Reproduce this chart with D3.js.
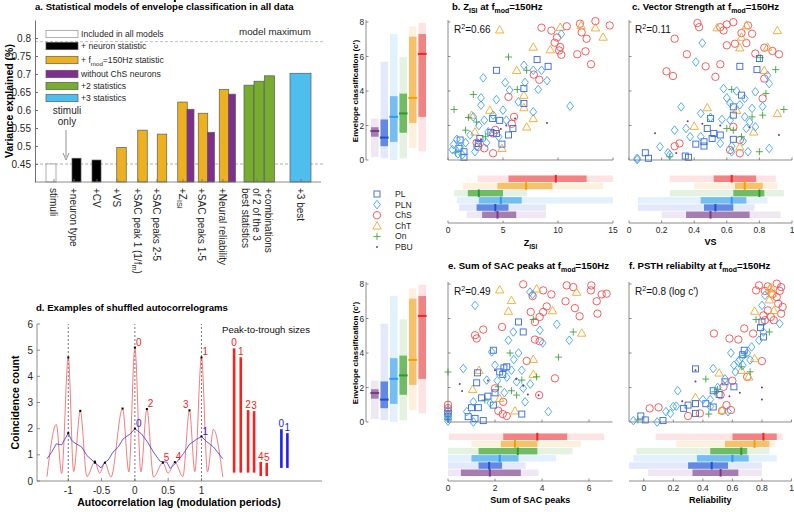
<!DOCTYPE html>
<html><head><meta charset="utf-8">
<script src="https://cdn.jsdelivr.net/npm/d3@7"></script>
<style>body{margin:0;background:#fff}svg{font-family:"Liberation Sans",Arial,Helvetica,sans-serif}</style>
</head><body><svg id="c" width="794" height="512"></svg>
<script>
// ================= DATA =================
// Panel a
const aCategories = ["stimuli","+neuron type","+CV","+VS","+SAC peak 1 (1/f_{m})","+SAC peaks 2-5","+Z_{ISI}","+SAC peaks 1-5","+Neural reliability","+combinations|of 2 of the 3|best statistics","+3 best"];
const aTickPos = [1.9,3.9,6.2,8.2,10.3,12.2,14.8,16.7,18.8,22.2,26.6];
const aBarX = [1.6,4.15,6.15,8.65,10.75,12.7,14.75,15.55,16.8,17.6,18.9,19.7,21.4,22.4,23.45,26.55];
const aBarValue = [0.45,0.466,0.461,0.496,0.544,0.533,0.622,0.602,0.591,0.538,0.657,0.644,0.669,0.68,0.695,0.702];
const aBarKind = ["all","neuron","neuron","fmod","fmod","fmod","fmod","noChS","fmod","noChS","fmod","noChS","two","two","two","three"];
const aLegendKinds = ["all","neuron","fmod","noChS","two","three"];
const aLegendText = ["Included in all models","+ neuron statistic","+ f_{mod}=150Hz statistic","without ChS neurons","+2 statistics","+3 statistics"];
const aYTicks = [0.45,0.5,0.55,0.6,0.65,0.7,0.75,0.8];
const aBaseline = 0.45, aModelMax = 0.79;

// Panel d
const dRedLag   = [-1.32,-1.18,-1.10,-1.0,-0.92,-0.82,-0.72,-0.6,-0.53,-0.45,-0.36,-0.185,-0.09,0,0.09,0.18,0.28,0.42,0.5,0.6,0.72,0.82,0.9,1.0,1.09,1.18,1.32];
const dRedCount = [0.17,2.16,0.29,4.72,0.36,2.68,0.17,0.74,0.3,0.7,0.15,2.77,0.35,5.1,0.35,2.75,0.15,0.7,0.3,0.72,0.17,2.7,0.36,4.72,0.35,1.97,0.15];
const dBlueLag   = [-1.32,-1.25,-1.18,-1.1,-1.0,-0.95,-0.9,-0.8,-0.72,-0.6,-0.51,-0.45,-0.4,-0.33,-0.25,-0.18,-0.07,0,0.1,0.2,0.28,0.38,0.48,0.53,0.62,0.73,0.82,0.93,1.0,1.08,1.18,1.32];
const dBlueCount = [0.85,1.1,1.42,1.38,1.83,1.55,1.45,1.3,0.97,0.7,0.5,0.72,0.8,1.1,1.3,1.6,1.8,2.0,1.8,1.45,1.1,0.75,0.72,0.48,0.7,1.05,1.4,1.6,1.7,1.5,1.3,0.85];
const dRedPeaks  = [-1,-0.82,-0.6,-0.45,-0.185,0,0.18,0.42,0.6,0.82,1.0];
const dBluePeaks = [-1,-0.6,0,0.6,1.0];
const dRedPeakLabels = [["0",0,5.1],["1",1.0,4.72],["2",0.18,2.75],["3",0.82,2.7],["4",0.6,0.72],["5",0.42,0.7]];
const dBluePeakLabels = [["0",0,2.0],["1",1.0,1.7]];
const dPttRedX = [1.49,1.59,1.70,1.79,1.89,1.98];
const dPttRedTop = [5.07,4.73,2.71,2.67,0.73,0.69];
const dPttRedBase = [0.32,0.32,0.32,0.32,0.19,0.19];
const dPttBlueX = [2.2,2.29];
const dPttBlueTop = [1.98,1.83];
const dPttBlueBase = [0.5,0.5];
const dXTicks = [-1,-0.5,0,0.5,1];
const dYTicks = [0,1,2,3,4,5,6];

// Neuron types
const legendTypes = ["PL","PLN","ChS","ChT","On","PBU"];
const boxTypes = ["PBU","PL","PLN","On","ChT","ChS"];
// [min, q1, median, q3, max] per boxTypes
const cStats    = [[0.17,1.35,1.68,1.9,2.4],[0.1,0.8,1.3,2.35,5.7],[0.0,1.05,2.5,3.7,7.3],[0.1,1.58,2.7,3.85,5.95],[0.7,2.15,3.6,7.15,7.75],[0.5,2.5,6.15,7.3,7.95]];
const zisiStats = [[1.7,3.1,4.5,6.2,8.9],[1.0,2.6,4.3,5.5,8.9],[0.8,2.8,4.8,6.7,15],[0.55,1.8,2.8,5.0,7.2],[1.35,4.5,7.1,9.5,14.1],[2.7,5.5,9.8,12.6,15]];
const vsStats   = [[0.2,0.35,0.5,0.74,0.93],[0.055,0.46,0.53,0.64,0.77],[0.055,0.44,0.63,0.72,0.85],[0.25,0.64,0.8,0.83,0.95],[0.4,0.65,0.71,0.82,0.91],[0.25,0.52,0.63,0.78,0.9]];
const sacStats  = [[0,0.55,1.78,3.1,3.85],[0,1.3,1.75,2.3,3.3],[0,1.0,2.2,3.0,4.6],[0,1.3,2.97,3.8,5.3],[1.0,2.25,2.85,3.8,5.65],[0.04,2.35,3.8,5.07,6.65]];
const relStats  = [[0.03,0.33,0.52,0.64,0.8],[-0.1,0.3,0.46,0.57,0.8],[-0.07,0.36,0.6,0.71,0.9],[-0.05,0.45,0.66,0.7,0.85],[0.22,0.55,0.75,0.85,0.89],[0.08,0.6,0.81,0.9,0.94]];

// Scatter points: [type, statistic, c']
const bPoints = [
["ChS",8.5,7.67],["ChS",9.4,7.5],["ChS",9.9,7.1],["ChS",9.7,6.8],["ChS",10.1,6.35],["ChS",10.2,6.55],["ChS",10.3,6.1],["ChS",10.8,7.75],["ChS",12.0,7.9],["ChS",12.15,7.4],["ChS",13.4,8.05],["ChS",14.7,7.8],["ChS",12.6,7.03],["ChS",11.75,6.13],["ChS",12.5,6.3],["ChS",13.0,5.55],["ChS",7.8,4.95],["ChS",8.3,4.65],["ChS",5.5,3.66],["ChS",6.0,2.5],["ChS",5.8,2.1],["ChS",4.1,1.54],["ChS",4.3,1.75],["ChS",4.1,0.39],["ChS",2.75,0.77],["ChS",3.3,0.68],["ChS",2.6,1.0],
["ChT",4.7,7.55],["ChT",7.75,6.55],["ChT",9.3,6.4],["ChT",10.2,7.7],["ChT",12.1,7.8],["ChT",13.4,7.67],["ChT",14.1,7.13],["ChT",6.25,5.2],["ChT",6.9,3.76],["ChT",6.9,3.04],["ChT",3.8,2.89],["ChT",2.15,2.6],["ChT",7.75,2.41],["ChT",7.15,1.92],["ChT",2.45,1.63],["ChT",4.9,0.68],
["On",5.5,5.97],["On",0.55,2.93],["On",2.3,3.8],["On",1.85,2.47],["On",0.7,0.42],["On",6.3,4.09],["On",7.15,5.2],["On",1.6,1.73],["On",3.4,1.35],["On",2.6,2.2],
["PL",4.4,5.2],["PL",8.1,5.82],["PL",9.1,5.43],["PL",6.9,4.14],["PL",6.9,3.28],["PL",5.9,1.83],["PL",4.9,0.92],["PL",4.06,2.41],["PL",4.4,1.54],["PL",1.1,1.16],["PL",1.0,0.68],["PL",1.45,0.48],["PL",1.45,0.16],["PL",2.75,0.96],["PL",5.5,1.45],["PL",3.9,1.6],["PL",2.9,1.25],["PL",4.7,2.3],
["PLN",6.9,5.49],["PLN",7.75,5.2],["PLN",8.5,5.2],["PLN",5.2,4.49],["PLN",3.2,4.76],["PLN",5.6,4.05],["PLN",6.4,3.37],["PLN",8.2,4.09],["PLN",7.75,2.79],["PLN",5.0,2.89],["PLN",3.0,3.18],["PLN",2.3,2.5],["PLN",3.3,2.31],["PLN",4.1,2.6],["PLN",5.3,2.31],["PLN",3.66,1.63],["PLN",4.6,1.35],["PLN",2.6,0.77],["PLN",2.45,0.48],["PLN",0.8,1.2],["PLN",1.1,0.77],["PLN",2.0,1.45],["PLN",11.1,3.12],["PLN",10.3,7.3],["PLN",0.5,0.9],["PLN",1.3,0.3],["PLN",0.9,0.35],["PLN",3.5,1.0],["PLN",2.8,2.0],["PLN",4.4,3.5],["PLN",9.0,4.6],["PLN",7.0,4.5],["PLN",1.6,1.0],["PLN",0.4,0.6],["PLN",3.0,3.6],
["PBU",6.1,2.4],["PBU",9.0,2.15],["PBU",5.3,2.0],["PBU",3.0,1.2],["PBU",4.8,1.8]];
const cPoints = [
["ChS",0.42,7.94],["ChS",0.43,7.7],["ChS",0.28,7.03],["ChS",0.355,6.13],["ChS",0.47,5.43],["ChS",0.23,5.14],["ChS",0.27,4.87],["ChS",0.53,4.82],["ChS",0.56,5.55],["ChS",0.6,6.65],["ChS",0.65,6.74],["ChS",0.64,7.99],["ChS",0.6,7.86],["ChS",0.56,7.7],["ChS",0.58,7.51],["ChS",0.69,7.36],["ChS",0.72,6.78],["ChS",0.775,6.17],["ChS",0.83,6.51],["ChS",0.88,6.32],["ChS",0.92,6.13],["ChS",0.73,7.8],["ChS",0.755,7.32],["ChS",0.83,4.72],["ChS",0.82,3.57],["ChS",0.68,1.16],["ChS",0.64,1.92],["ChS",0.68,0.39],["ChS",0.31,0.96],["ChS",0.28,0.8],["ChS",0.62,0.58],
["ChT",0.54,7.67],["ChT",0.72,7.8],["ChT",0.69,7.13],["ChT",0.68,6.51],["ChT",0.91,7.51],["ChT",0.85,6.55],["ChT",0.83,5.2],["ChT",0.48,3.04],["ChT",0.91,2.7],["ChT",0.4,1.96],["ChT",0.66,2.89],["ChT",0.765,1.63],["ChT",0.68,0.77],
["On",0.806,5.93],["On",0.9,5.24],["On",0.63,4.09],["On",0.84,3.86],["On",0.82,2.6],["On",0.95,2.93],["On",0.755,2.5],["On",0.6,1.83],["On",0.64,1.73],["On",0.69,1.35],["On",0.8,0.48],["On",0.25,0.19],
["PL",0.68,5.43],["PL",0.785,5.24],["PL",0.8,5.88],["PL",0.69,3.76],["PL",0.64,3.08],["PL",0.64,2.6],["PL",0.5,2.41],["PL",0.48,1.83],["PL",0.52,1.54],["PL",0.56,1.45],["PL",0.51,1.25],["PL",0.46,1.06],["PL",0.46,0.81],["PL",0.41,0.92],["PL",0.365,0.16],["PL",0.345,0.23],["PL",0.1,0.42],["PL",0.12,0.1],["PL",0.64,1.2],
["PLN",0.45,6.78],["PLN",0.41,5.68],["PLN",0.32,3.08],["PLN",0.58,4.14],["PLN",0.71,3.57],["PLN",0.775,3.95],["PLN",0.85,4.91],["PLN",0.86,4.43],["PLN",0.755,2.99],["PLN",0.44,2.7],["PLN",0.5,2.47],["PLN",0.35,1.83],["PLN",0.28,1.73],["PLN",0.375,1.35],["PLN",0.44,1.35],["PLN",0.19,0.77],["PLN",0.24,0.42],["PLN",0.05,0.1],["PLN",0.05,0.02],["PLN",0.57,2.35],["PLN",0.62,2.31],["PLN",0.71,2.5],["PLN",0.72,1.83],["PLN",0.775,1.92],["PLN",0.86,0.67],["PLN",0.73,0.48],["PLN",0.63,0.48],["PLN",0.56,0.96],["PLN",0.62,3.3],["PLN",0.66,4.0],["PLN",0.6,3.6],["PLN",0.68,3.2],["PLN",0.74,2.2],["PLN",0.63,0.8],["PLN",0.7,1.1],["PLN",0.25,0.3],["PLN",0.82,3.1],
["PBU",0.36,2.25],["PBU",0.16,1.55],["PBU",0.45,2.1],["PBU",0.29,0.4],["PBU",0.92,1.45],["PBU",0.74,1.9],["PBU",0.56,2.0]];
const ePoints = [
["ChS",3.2,7.98],["ChS",4.05,7.63],["ChS",4.4,7.4],["ChS",3.6,7.3],["ChS",3.52,6.38],["ChS",3.9,6.09],["ChS",3.7,5.8],["ChS",2.3,5.51],["ChS",4.05,6.38],["ChS",4.2,6.7],["ChS",1.5,5.36],["ChS",1.15,5.03],["ChS",1.22,4.84],["ChS",3.7,4.78],["ChS",3.9,4.68],["ChS",3.35,3.54],["ChS",4.55,2.53],["ChS",2.0,1.95],["ChS",2.35,1.17],["ChS",2.33,0.46],["ChS",2.5,0.35],["ChS",2.14,0.65],["ChS",3.88,1.56],["ChS",0,1.0],["ChS",0,0.8],["ChS",0,0.6],["ChS",5.05,7.92],["ChS",5.33,7.82],["ChS",6.1,7.92],["ChS",6.08,7.63],["ChS",6.54,7.4],["ChS",6.75,7.44],["ChS",6.33,7.0],["ChS",5.0,7.0],["ChS",5.4,6.6],["ChS",5.6,6.13],["ChS",6.36,6.28],
["ChT",2.2,7.67],["ChT",3.77,7.72],["ChT",2.7,7.05],["ChT",2.57,6.43],["ChT",4.45,6.46],["ChT",1.32,3.0],["ChT",1.05,1.9],["ChT",3.63,3.64],["ChT",3.63,2.77],["ChT",2.2,1.37],["ChT",2.85,0.65],["ChT",5.47,7.53],["ChT",5.69,5.16],
["On",0,2.9],["On",2.64,4.0],["On",3.77,2.62],["On",4.7,3.76],["On",3.63,5.94],["On",1.57,1.27],["On",2.7,1.81],["On",2.92,1.56],["On",3.14,2.43],["On",2.14,2.04],["On",5.33,5.22],["On",0,0.15],
["PL",3.0,5.8],["PL",3.2,5.22],["PL",1.93,4.16],["PL",2.38,3.14],["PL",2.33,2.76],["PL",1.25,2.85],["PL",1.22,2.27],["PL",1.43,1.4],["PL",1.29,0.83],["PL",1.0,0.83],["PL",0.86,0.31],["PL",1.15,0.21],["PL",1.5,0.08],["PL",2.0,1.69],["PL",1.7,1.5],["PL",3.14,0.46],["PL",1.93,0.98],["PL",0,0.5],["PL",0,0.3],["PL",2.5,3.2],["PL",2.2,2.9],
["PLN",1.15,6.76],["PLN",2.57,4.74],["PLN",2.78,5.22],["PLN",4.03,4.58],["PLN",3.91,5.32],["PLN",4.63,5.66],["PLN",0.65,3.1],["PLN",1.86,4.06],["PLN",2.0,3.29],["PLN",2.8,3.62],["PLN",3.14,3.0],["PLN",2.92,2.33],["PLN",2.5,2.6],["PLN",1.65,2.43],["PLN",2.1,2.4],["PLN",3.2,1.95],["PLN",3.28,1.17],["PLN",3.5,2.2],["PLN",1.08,1.17],["PLN",0.8,0.6],["PLN",1.08,0],["PLN",4.27,0.6],["PLN",3.49,7.53],["PLN",3.6,7.4],["PLN",0,0.7],["PLN",0,0.2],["PLN",0,0.05],["PLN",0,0.4],["PLN",5.16,4.74],["PLN",2.4,1.7],["PLN",1.8,1.1],["PLN",2.7,3.0],["PLN",3.0,4.0],
["PBU",0.5,2.2],["PBU",0.6,1.8],["PBU",1.7,2.4],["PBU",2.9,2.5],["PBU",3.2,2.1],["PBU",2.0,3.0],["PBU",3.4,1.6],["PBU",3.85,1.55]];
const fPoints = [
["ChS",0.78,7.92],["ChS",0.84,7.86],["ChS",0.9,8.02],["ChS",0.93,7.82],["ChS",0.76,7.63],["ChS",0.82,7.6],["ChS",0.9,7.24],["ChS",0.91,6.86],["ChS",0.94,6.67],["ChS",0.93,6.28],["ChS",0.84,6.47],["ChS",0.81,6.18],["ChS",0.86,6.09],["ChS",0.88,5.9],["ChS",0.68,5.42],["ChS",0.74,5.13],["ChS",0.475,5.13],["ChS",0.58,4.84],["ChS",0.64,4.78],["ChS",0.8,3.53],["ChS",0.7,2.62],["ChS",0.6,2.39],["ChS",0.54,2.04],["ChS",0.52,1.56],["ChS",0.56,0.98],["ChS",0.59,0.69],["ChS",0.53,0.65],["ChS",0.04,0.79],["ChS",0.1,0.85],["ChS",0.3,0.35],["ChS",0.38,0.5],["ChS",0.87,7.4],["ChS",0.92,7.6],["ChS",0.82,5.9],
["ChT",0.85,7.72],["ChT",0.87,7.47],["ChT",0.85,7.09],["ChT",0.88,6.47],["ChT",0.75,6.43],["ChT",0.75,3.68],["ChT",0.51,2.85],["ChT",0.35,1.43],["ChT",0.66,3.0],["ChT",0.71,2.62],["ChT",0.53,0.69],["ChT",0.86,7.8],
["On",0.76,5.94],["On",0.85,5.22],["On",0.42,2.49],["On",0.48,1.75],["On",0.44,0.46],["On",-0.04,0.12],["On",0.68,3.87],["On",0.72,2.91],["On",0.66,3.2],["On",0.5,1.9],
["PL",0.8,5.8],["PL",0.79,5.47],["PL",0.81,4.93],["PL",0.68,4.16],["PL",0.67,3.9],["PL",0.35,3.08],["PL",0.55,2.33],["PL",0.61,2.04],["PL",0.47,1.81],["PL",0.42,1.06],["PL",0.47,0.87],["PL",0.35,1.06],["PL",0.3,0.98],["PL",0.27,0.79],["PL",0.35,0.5],["PL",-0.02,0.35],["PL",0.01,0.12],["PL",0.13,0.08],["PL",0.51,1.6],
["PLN",0.82,7.34],["PLN",0.8,6.76],["PLN",0.92,5.7],["PLN",0.81,5.22],["PLN",0.73,4.35],["PLN",0.59,4.0],["PLN",0.65,3.62],["PLN",0.61,3.29],["PLN",0.47,3.1],["PLN",0.67,3.3],["PLN",0.23,1.81],["PLN",0.22,0.92],["PLN",0.18,0.5],["PLN",0.09,0.0],["PLN",-0.07,0.08],["PLN",0.78,4.74],["PLN",0.72,3.6],["PLN",0.45,1.3],["PLN",0.55,2.5],["PLN",0.57,0.6],["PLN",0.62,2.9],["PLN",0.5,2.0],["PLN",0.4,1.3],["PLN",0.2,0.9],["PLN",0.15,0.6],["PLN",0.64,3.5],["PLN",0.7,4.0],["PLN",0.45,0.9],
["PBU",0.35,3.0],["PBU",0.35,2.35],["PBU",0.26,1.2],["PBU",0.8,2.0],["PBU",0.8,1.3],["PBU",0.65,1.7],["PBU",0.58,1.5]];

// ================= DRAWING =================
const svg = d3.select("#c");
const INK = "#262626", AXC = "#707070";
const typeColor = {PL:"#3469D6",PLN:"#3EA2F0",ChS:"#F04E4E",ChT:"#F0A830",On:"#3DA43D",PBU:"#7E2F8E"};
const boxLight = {PBU:"#EFE7F1",PL:"#E3E9FA",PLN:"#E3F1FD",On:"#E5F2E1",ChT:"#FDF1DE",ChS:"#FDE3E4"};
const boxMid   = {PBU:"#A67DB1",PL:"#628AE2",PLN:"#75BEF2",On:"#70BB64",ChT:"#F5C169",ChS:"#F28283"};
const boxMed   = {PBU:"#7A3A8A",PL:"#1F4FD8",PLN:"#2A9BF0",On:"#2E9A2E",ChT:"#F0A000",ChS:"#E8282C"};
const kindFill = {all:"#ffffff",neuron:"#000000",fmod:"#EDB120",noChS:"#7E2F8E",two:"#77AC30",three:"#4DBEEE"};
const kindWidth = {all:1.0,neuron:0.9,fmod:0.95,noChS:0.7,two:1.0,three:2.1};

function rich(t, s, fs){
  const parts = s.split(/(_\{[^}]*\}|\^\{[^}]*\})/);
  let back = 0;
  parts.forEach(p=>{
    if(!p) return;
    if(p.startsWith("_{") || p.startsWith("^{")){
      const sh = p[0]==="_" ? 0.32*fs : -0.38*fs;
      t.append("tspan").attr("dy", sh).attr("font-size", 0.72*fs).text(p.slice(2,-1));
      back = -sh;
    } else {
      const ts = t.append("tspan").text(p);
      if(back){ ts.attr("dy", back); back=0; }
    }
  });
  return t;
}
function txt(g,x,y,s,fs,opt={}){
  const t = g.append("text").attr("x",x).attr("y",y).attr("font-size",fs).attr("fill",opt.fill||INK)
    .attr("text-anchor",opt.anchor||"start").attr("font-weight",opt.bold?"bold":"normal");
  if(opt.transform) t.attr("transform",opt.transform);
  rich(t,s,fs); return t;
}
function line(g,x1,y1,x2,y2,col,w,dash){
  const l=g.append("line").attr("x1",x1).attr("y1",y1).attr("x2",x2).attr("y2",y2).attr("stroke",col).attr("stroke-width",w||0.8);
  if(dash) l.attr("stroke-dasharray",dash); return l;
}

// ---------- Panel a ----------
{
  const g = svg.append("g");
  const x = d3.scaleLinear().domain([0,28.6]).range([35,321]);
  const y = d3.scaleLinear().domain([0.4,0.85]).range([182,20]);
  txt(g,35,10,"a. Statistical models of envelope classification in all data",9.6,{bold:true,fill:"#000"});
  line(g,x(0),y(aBaseline),x(29),y(aBaseline),"#9a9a9a",0.8,"3,2");
  line(g,x(0),y(aModelMax),x(29),y(aModelMax),"#b0b0b0",0.8,"3,2");
  txt(g,239,35,"model maximum",9.8);
  g.selectAll("rect.bar").data(aBarValue).enter().append("rect")
    .attr("x",(d,i)=>x(aBarX[i]-kindWidth[aBarKind[i]]/2))
    .attr("width",(d,i)=>x(kindWidth[aBarKind[i]])-x(0))
    .attr("y",d=>y(d)).attr("height",d=>y(0.4)-y(d))
    .attr("fill",(d,i)=>kindFill[aBarKind[i]])
    .attr("stroke",(d,i)=>aBarKind[i]==="all"?"#8c8c8c":"#5a5a5a").attr("stroke-width",0.7);
  const ya = d3.axisLeft(y).tickValues(aYTicks).tickSizeInner(-3).tickSizeOuter(0).tickPadding(4).tickFormat(d3.format(""));
  const yg = g.append("g").attr("transform",`translate(${x(0)},0)`).call(ya);
  yg.select(".domain").attr("stroke",AXC);
  yg.selectAll(".tick line").attr("stroke",AXC);
  yg.selectAll("text").attr("font-size",10).attr("fill",INK).attr("font-family",null);
  line(g,x(0),y(0.4),x(28.6),y(0.4),AXC,0.8);
  aTickPos.forEach(p=>line(g,x(p),y(0.4),x(p),y(0.4)-3,AXC,0.8));
  g.append("text").attr("transform","translate(13,101) rotate(-90)").attr("text-anchor","middle")
    .attr("font-size",10.5).attr("font-weight","bold").attr("fill","#000").text("Variance explained (%)");
  aCategories.forEach((c,i)=>{
    const lines = c.split("|");
    const t = g.append("text").attr("transform",`translate(${x(aTickPos[i])},${y(0.4)+6}) rotate(90)`)
      .attr("font-size",10).attr("fill",INK).attr("dominant-baseline","central");
    lines.forEach((ln,j)=>{
      const ts = t.append("tspan").attr("x",0).attr("dy", j===0 ? -(lines.length-1)/2*11.5 : 11.5);
      rich(ts, ln, 10);
    });
  });
  txt(g,67,114,"stimuli",10,{anchor:"middle"});
  txt(g,67,125,"only",10,{anchor:"middle"});
  line(g,66,130,66,157,"#777",0.8);
  g.append("path").attr("d","M63,153 L66,160 L69,153").attr("fill","none").attr("stroke","#777").attr("stroke-width",0.8);
  const rows = [34,46,60,74,86,98];
  aLegendKinds.forEach((k,i)=>{
    g.append("rect").attr("x",46).attr("y",rows[i]-3.7).attr("width",32).attr("height",7.4)
      .attr("fill",kindFill[k]).attr("stroke",k==="all"?"#8c8c8c":"#5a5a5a").attr("stroke-width",0.7);
    txt(g,81,rows[i]+3,aLegendText[i],8.6);
  });
}

// ---------- Panel d ----------
{
  const g = svg.append("g");
  const x = d3.scaleLinear().domain([-1.47,2.81]).range([37,322]);
  const y = d3.scaleLinear().domain([0,6]).range([481,324]);
  txt(g,36,311,"d. Examples of shuffled autocorrelograms",9.6,{bold:true,fill:"#000"});
  [-1,0,1].forEach(v=>line(g,x(v),y(0),x(v),y(6),"#555",0.8,"2,2"));
  const lg = d3.line().x(d=>x(d[0])).y(d=>y(d[1])).curve(d3.curveMonotoneX);
  g.append("path").attr("d",lg(dRedLag.map((l,i)=>[l,dRedCount[i]]))).attr("fill","none").attr("stroke","#F25A5A").attr("stroke-width",0.8);
  g.append("path").attr("d",d3.line().x(d=>x(d[0])).y(d=>y(d[1]))(dBlueLag.map((l,i)=>[l,dBlueCount[i]]))).attr("fill","none").attr("stroke","#3535E6").attr("stroke-width",0.8);
  dRedPeaks.forEach(p=>{const i=dRedLag.indexOf(p); g.append("rect").attr("x",x(p)-1).attr("y",y(dRedCount[i])-1).attr("width",2).attr("height",2).attr("fill","#000");});
  dBluePeaks.forEach(p=>{const i=dBlueLag.indexOf(p); g.append("rect").attr("x",x(p)-1).attr("y",y(dBlueCount[i])-1).attr("width",2).attr("height",2).attr("fill","#000");});
  dRedPeakLabels.forEach(([s,l,v])=>txt(g, s==="3"? x(l)-1 : x(l)+1, y(v)-2, s, 10, {fill:"#F01E1E", anchor: s==="3"?"end":"start"}));
  dBluePeakLabels.forEach(([s,l,v])=>txt(g,x(l)+1,y(v)-2,s,10,{fill:"#2323E6"}));
  dPttRedX.forEach((p,i)=>{
    line(g,x(p),y(dPttRedBase[i]),x(p),y(dPttRedTop[i]),"#FF1E1E",2.6);
    txt(g,x(p),y(dPttRedTop[i])-2,String(i),10,{fill:"#F01E1E",anchor:"middle"});
  });
  dPttBlueX.forEach((p,i)=>{
    line(g,x(p),y(dPttBlueBase[i]),x(p),y(dPttBlueTop[i]),"#1E1EFF",2.6);
    txt(g,x(p),y(dPttBlueTop[i])-2,String(i),10,{fill:"#2323E6",anchor:"middle"});
  });
  txt(g,222,333,"Peak-to-trough sizes",9.6,{fill:"#111"});
  line(g,x(-1.47),y(0),x(2.81),y(0),AXC,0.8);
  line(g,x(-1.47),y(0),x(-1.47),y(6),AXC,0.8);
  dXTicks.forEach(v=>{ line(g,x(v),y(0),x(v),y(0)-3,AXC,0.8); txt(g,x(v),y(0)+13,String(v),10,{anchor:"middle"}); });
  dYTicks.forEach(v=>{ line(g,x(-1.47),y(v),x(-1.47)+3,y(v),AXC,0.8); txt(g,x(-1.47)-4,y(v)+3.5,String(v),10,{anchor:"end"}); });
  g.append("text").attr("transform",`translate(19,${(y(0)+y(6))/2}) rotate(-90)`).attr("text-anchor","middle")
    .attr("font-size",10.5).attr("font-weight","bold").attr("fill","#000").text("Coincidence count");
  txt(g,179,506,"Autocorrelation lag (modulation periods)",10.5,{bold:true,fill:"#000",anchor:"middle"});
}

// ---------- markers ----------
function marker(g,type,cx,cy){
  const c = typeColor[type];
  const s = g.append("g").attr("transform",`translate(${cx},${cy})`);
  const st = p=>p.attr("fill","none").attr("stroke",c).attr("stroke-width",0.9);
  if(type==="PL") st(s.append("rect").attr("x",-3).attr("y",-3).attr("width",6).attr("height",6));
  else if(type==="PLN") st(s.append("path").attr("d","M0,-4.3L3.4,0L0,4.3L-3.4,0Z"));
  else if(type==="ChS") st(s.append("circle").attr("r",3.7));
  else if(type==="ChT") st(s.append("path").attr("d","M0,-4.2L4.2,3.2L-4.2,3.2Z"));
  else if(type==="On") st(s.append("path").attr("d","M-3.5,0H3.5M0,-3.5V3.5"));
  else s.append("circle").attr("r",1).attr("fill",c);
}

// ---------- box column ----------
function boxColumn(yTop,yBot){
  const g = svg.append("g");
  const y = d3.scaleLinear().domain([0,8]).range([yBot,yTop]);
  const bx = d3.scaleBand().domain(boxTypes).range([371,426]).paddingInner(0.2);
  boxTypes.forEach((t,i)=>{
    const s = cStats[i], x0 = bx(t), w = bx.bandwidth();
    g.append("rect").attr("x",x0).attr("width",w).attr("y",y(s[4])).attr("height",y(s[0])-y(s[4])).attr("fill",boxLight[t]);
    g.append("rect").attr("x",x0).attr("width",w).attr("y",y(s[3])).attr("height",y(s[1])-y(s[3])).attr("fill",boxMid[t]);
    g.append("rect").attr("x",x0-0.6).attr("width",w+1.2).attr("y",y(s[2])-1).attr("height",2).attr("fill",boxMed[t]);
  });
  line(g,366,y(0),366,y(8)-2,AXC,0.8);
  [0,2,4,6,8].forEach(v=>{ line(g,366,y(v),368.5,y(v),AXC,0.8); txt(g,364,y(v)+3,String(v),8.3,{anchor:"end"}); });
  g.append("text").attr("transform",`translate(358,${(yTop+yBot)/2}) rotate(-90)`).attr("text-anchor","middle")
    .attr("font-size",8).attr("font-weight","bold").attr("fill","#000").text("Envelope classification (c')");
}
boxColumn(22,160);
boxColumn(284,422);

// ---------- scatter panels ----------
function scatterPanel(cfg){
  const g = svg.append("g");
  const x = d3.scaleLinear().domain(cfg.xDomain).range([cfg.x0,cfg.x1]);
  const y = d3.scaleLinear().domain([0,8]).range([cfg.yBot,cfg.yTop]);
  txt(g,cfg.titleX,cfg.titleY,cfg.title,9.6,{bold:true,fill:"#000"});
  txt(g,cfg.x0+6,cfg.yTop+11,cfg.r2,10,{fill:"#111"});
  cfg.points.forEach(p=>marker(g,p[0],x(p[1]),y(p[2])));
  line(g,cfg.x0,cfg.yBot,cfg.x0,cfg.yTop-2,AXC,0.8);
  line(g,cfg.x0,cfg.yBot,cfg.x1,cfg.yBot,AXC,0.8);
  [2,4,6,8].forEach(v=>line(g,cfg.x0,y(v),cfg.x0+2.5,y(v),AXC,0.8));
  cfg.xTicks.forEach(v=>line(g,x(v),cfg.yBot,x(v),cfg.yBot-2.5,AXC,0.8));
  const rb = d3.scaleBand().domain(boxTypes.slice().reverse()).range([cfg.rowTop,cfg.rowBot]).paddingInner(0.1);
  boxTypes.forEach((t,i)=>{
    const s = cfg.stats[i], yy = rb(t), h = rb.bandwidth();
    g.append("rect").attr("y",yy).attr("height",h).attr("x",x(s[0])).attr("width",x(s[4])-x(s[0])).attr("fill",boxLight[t]);
    g.append("rect").attr("y",yy).attr("height",h).attr("x",x(s[1])).attr("width",x(s[3])-x(s[1])).attr("fill",boxMid[t]);
    g.append("rect").attr("y",yy-0.6).attr("height",h+1.2).attr("x",x(s[2])-1).attr("width",2).attr("fill",boxMed[t]);
  });
  line(g,cfg.x0,cfg.axisY,cfg.x1,cfg.axisY,AXC,0.8);
  cfg.xTicks.forEach(v=>{ line(g,x(v),cfg.axisY,x(v),cfg.axisY-2.5,AXC,0.8); txt(g,x(v),cfg.axisY+10,cfg.fmt(v),8.5,{anchor:"middle"}); });
  txt(g,(cfg.x0+cfg.x1)/2,cfg.axisY+cfg.labelDy,cfg.xLabel,9,{bold:true,fill:"#000",anchor:"middle"});
}
const fmtG = d3.format("");
scatterPanel({x0:448,x1:613,xDomain:[0,15],yTop:22,yBot:160,rowTop:175.5,rowBot:218,axisY:223,xTicks:[0,5,10,15],fmt:fmtG,
  xLabel:"Z_{ISI}",labelDy:23,title:"b. Z_{ISI} at f_{mod}=150Hz",titleX:452,titleY:10,r2:"R^{2}=0.66",points:bPoints,stats:zisiStats});
scatterPanel({x0:629,x1:792,xDomain:[0,1],yTop:22,yBot:160,rowTop:175.5,rowBot:218,axisY:223,xTicks:[0,0.2,0.4,0.6,0.8,1],fmt:fmtG,
  xLabel:"VS",labelDy:22,title:"c. Vector Strength at f_{mod}=150Hz",titleX:632,titleY:10,r2:"R^{2}=0.11",points:cPoints,stats:vsStats});
scatterPanel({x0:448,x1:612.5,xDomain:[0,7],yTop:284,yBot:422,rowTop:433.5,rowBot:476,axisY:481,xTicks:[0,2,4,6],fmt:fmtG,
  xLabel:"Sum of SAC peaks",labelDy:22,title:"e. Sum of SAC peaks at f_{mod}=150Hz",titleX:448,titleY:269,r2:"R^{2}=0.49",points:ePoints,stats:sacStats});
scatterPanel({x0:629,x1:791.5,xDomain:[-0.1,1],yTop:284,yBot:422,rowTop:433.5,rowBot:476,axisY:481,xTicks:[0,0.2,0.4,0.6,0.8,1],fmt:fmtG,
  xLabel:"Reliability",labelDy:22,title:"f. PSTH reliabilty at f_{mod}=150Hz",titleX:629,titleY:269,r2:"R^{2}=0.8 (log c')",points:fPoints,stats:relStats});

// ---------- legend for neuron types ----------
{
  const g = svg.append("g");
  legendTypes.forEach((t,i)=>{
    const yy = 194 + i*10.6;
    marker(g,t,377,yy);
    txt(g,395,yy+3,t,8.6);
  });
}
</script></body></html>
